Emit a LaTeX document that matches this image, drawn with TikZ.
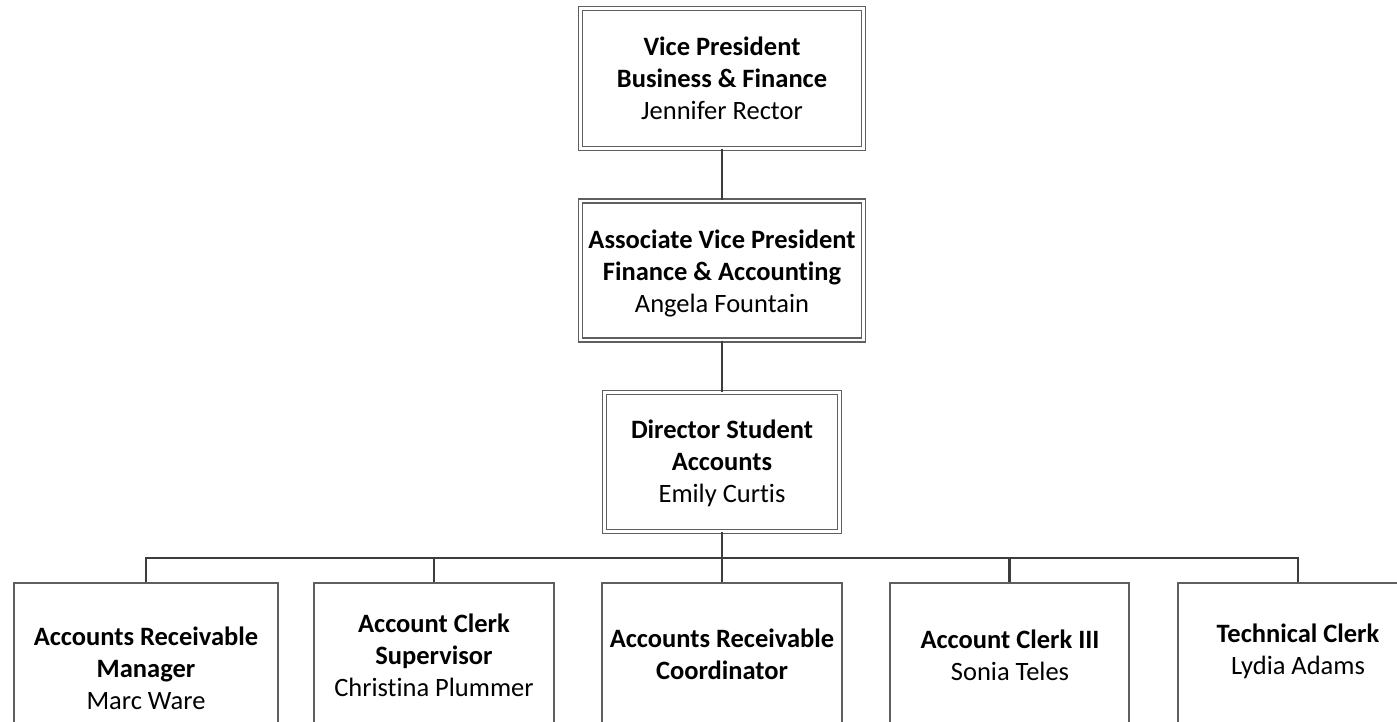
\documentclass[tikz,border=0pt]{standalone}
\usepackage{fontspec}
\setmainfont{Carlito}[Ligatures=NoCommon]
\definecolor{boxline}{RGB}{95,95,95}
\definecolor{connline}{RGB}{60,60,60}
\begin{document}
\begin{tikzpicture}[x=1pt,y=-1pt,
  dbox/.style={draw=boxline, double=white, line width=1.2pt, double distance=2.8pt,
               rectangle, inner sep=0pt},
  sbox/.style={draw=boxline, line width=1.3pt, rectangle, inner sep=0pt},
  txt/.style={align=center, inner sep=0pt, font=\fontsize{26.5}{32}\selectfont},
  conn/.style={draw=connline, line width=2.9pt}]
\useasboundingbox (0,0) rectangle (1397,722);
\clip (0,0) rectangle (1397,722);
\fill[white] (0,0) rectangle (1397,722);

% top boxes (double border)
\node[dbox, minimum width=283pt, minimum height=140pt] (vp) at (722,78.5) {};
\node[dbox, minimum width=283pt, minimum height=139pt] (avp) at (722,270.5) {};
\node[dbox, minimum width=235pt, minimum height=138.5pt] (dir) at (722,462) {};

% bottom boxes (single border, cut off by the page)
\node[sbox, minimum width=264pt, minimum height=177pt] (b1) at (146,671.5) {};
\node[sbox, minimum width=240pt, minimum height=177pt] (b2) at (434,671.5) {};
\node[sbox, minimum width=240pt, minimum height=177pt] (b3) at (722,671.5) {};
\node[sbox, minimum width=239pt, minimum height=177pt] (b4) at (1009.5,671.5) {};
\node[sbox, minimum width=240pt, minimum height=177pt] (b5) at (1298,671.5) {};

% texts
\node[txt] (tvp) at (722,78) {\textbf{Vice President}\\\textbf{Business \& Finance}\\Jennifer Rector};
\node[txt] (tavp) at (722,273) {\textbf{Associate Vice President}\\\textbf{Finance \& Accounting}\\Angela Fountain};
\node[txt] (tdir) at (722,463) {\textbf{Director Student}\\\textbf{Accounts}\\Emily Curtis};
\node[txt] (tb1) at (146,668) {\textbf{Accounts Receivable}\\\textbf{Manager}\\Marc Ware};
\node[txt] (tb2) at (434,655) {\textbf{Account Clerk}\\\textbf{Supervisor}\\Christina Plummer};
\node[txt] (tb3) at (722,654) {\textbf{Accounts Receivable}\\\textbf{Coordinator}};
\node[txt] (tb4) at (1010,655) {\textbf{Account Clerk III}\\Sonia Teles};
\node[txt] (tb5) at (1298,651) {\textbf{Technical Clerk}\\Lydia Adams};

% connectors
\coordinate (bus) at (722,558);
\draw[conn] (vp.south) -- (avp.north);
\draw[conn] (avp.south) -- (dir.north);
\draw[conn] (dir.south) -- (bus);
\draw[conn] (bus) -| (b1.north);
\draw[conn] (bus) -| (b2.north);
\draw[conn] (bus) -- (b3.north);
\draw[conn] (bus) -| (b4.north);
\draw[conn] (bus) -| (b5.north);
\end{tikzpicture}
\end{document}
